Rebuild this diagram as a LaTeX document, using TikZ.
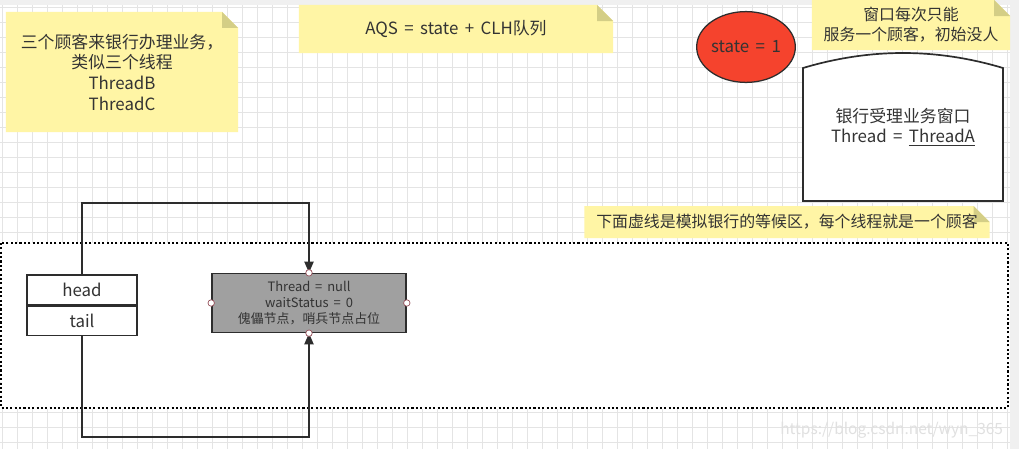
\documentclass[tikz,border=0pt]{standalone}
\usepackage{fontspec}
\setmainfont[WordSpace={1.7}]{Noto Sans CJK SC}
\usetikzlibrary{arrows.meta,shapes.geometric}
\definecolor{notecol}{RGB}{255,245,165}
\definecolor{foldcol}{RGB}{212,206,134}
\definecolor{gridcol}{RGB}{228,228,228}
\definecolor{statecol}{RGB}{245,67,45}
\definecolor{edgecol}{RGB}{45,45,45}
\definecolor{sentcol}{RGB}{160,160,160}
\definecolor{handlecol}{RGB}{150,80,90}
\begin{document}
\begin{tikzpicture}[x=0.025cm,y=-0.025cm,
    every node/.style={font=\fontsize{12}{14.7}\selectfont,text=black!80},
    note/.style={inner sep=0pt,align=center,path picture={
        \fill[notecol] (path picture bounding box.south west)
            -- (path picture bounding box.north west)
            -- ([xshift=-0.4cm]path picture bounding box.north east)
            -- ([yshift=-0.4cm]path picture bounding box.north east)
            -- (path picture bounding box.south east) -- cycle;
        \fill[foldcol] ([xshift=-0.4cm]path picture bounding box.north east)
            -- ([xshift=-0.4cm,yshift=-0.4cm]path picture bounding box.north east)
            -- ([yshift=-0.4cm]path picture bounding box.north east) -- cycle;}},
    field/.style={draw=edgecol,line width=1.1pt,minimum width=2.75cm,minimum height=0.74cm,inner sep=0pt},
    link/.style={draw=edgecol,line width=1.3pt,-{Triangle[length=8pt,width=6.5pt]}},
    handle/.style={circle,draw=handlecol,fill=white,inner sep=0pt,minimum size=4.6pt,line width=0.5pt}]
    \useasboundingbox (0,0) rectangle (1019,449);
    % canvas and grid
    \fill[white] (0,0) rectangle (1019,449);
    \foreach \gx in {2,17,...,1010} \draw[gridcol,line width=0.4pt] (\gx,0) -- (\gx,449);
    \foreach \gy in {7,22,...,449} \draw[gridcol,line width=0.4pt] (0,\gy) -- (1010,\gy);
    \fill[black!6] (0,0) rectangle (1019,5);
    \fill[black!6] (1010,0) rectangle (1019,449);
    % waiting area
    \draw[white,fill=white] (1,243) rectangle (1008,408);
    \draw[black,line width=1.5pt,dash pattern=on 1.5pt off 1.6pt] (1,243) rectangle (1008,408);
    % notes
    \node[note,minimum width=5.8cm,minimum height=3cm] (custnote) at (122,72)
        {三个顾客来银行办理业务，\\类似三个线程\\ThreadB\\ThreadC};
    \node[note,minimum width=7.85cm,minimum height=1.2cm] (aqsnote) at (456,29)
        {AQS = state + CLH队列};
    \node[note,minimum width=4.95cm,minimum height=1.25cm,font=\fontsize{11.3}{14.2}\selectfont] (winnote) at (911,25)
        {窗口每次只能\\服务一个顾客，初始没人};
    \node[note,minimum width=10.125cm,minimum height=0.8cm,font=\fontsize{11.3}{14}\selectfont] (waitnote) at (787,222)
        {下面虚线是模拟银行的等候区，每个线程就是一个顾客};
    % state and window
    \node[ellipse,draw=edgecol,line width=0.9pt,fill=statecol,minimum width=2.37cm,
        minimum height=1.77cm,inner sep=0pt] (state) at (746,47) {state = 1};
    \draw[edgecol,line width=1.2pt,fill=white] (803,201) -- (803,68)
        .. controls (870,48) and (936,48) .. (1003,68) -- (1003,201) -- cycle;
    \node[align=center] (window) at (903,127)
        {银行受理业务窗口\\Thread = \underline{ThreadA}};
    % head / tail and sentinel node
    \node[field,anchor=north] (head) at (82,274) {head};
    \node[field,anchor=north] (tail) at (head.south) {tail};
    \node[draw=edgecol,fill=sentcol,line width=1.1pt,minimum width=4.85cm,minimum height=1.47cm,
        inner sep=0pt,align=center,font=\fontsize{9.2}{11.2}\selectfont] (sentinel) at (309,303)
        {Thread = null\\waitStatus = 0\\傀儡节点，哨兵节点占位};
    \coordinate (headup) at (82,203);
    \coordinate (taildown) at (82,437);
    \draw[link] (head.north) -- (headup) -| (sentinel.north);
    \draw[link] (tail.south) -- (taildown) -| (sentinel.south);
    \foreach \a in {north,south,east,west}
        \node[handle] (h\a) at (sentinel.\a) {};
    % watermark
    \node[text=black!12,font=\fontsize{11}{13}\selectfont,anchor=east] (mark) at (1008,430) {https://blog.csdn.net/wyn\_365};
\end{tikzpicture}
\end{document}
